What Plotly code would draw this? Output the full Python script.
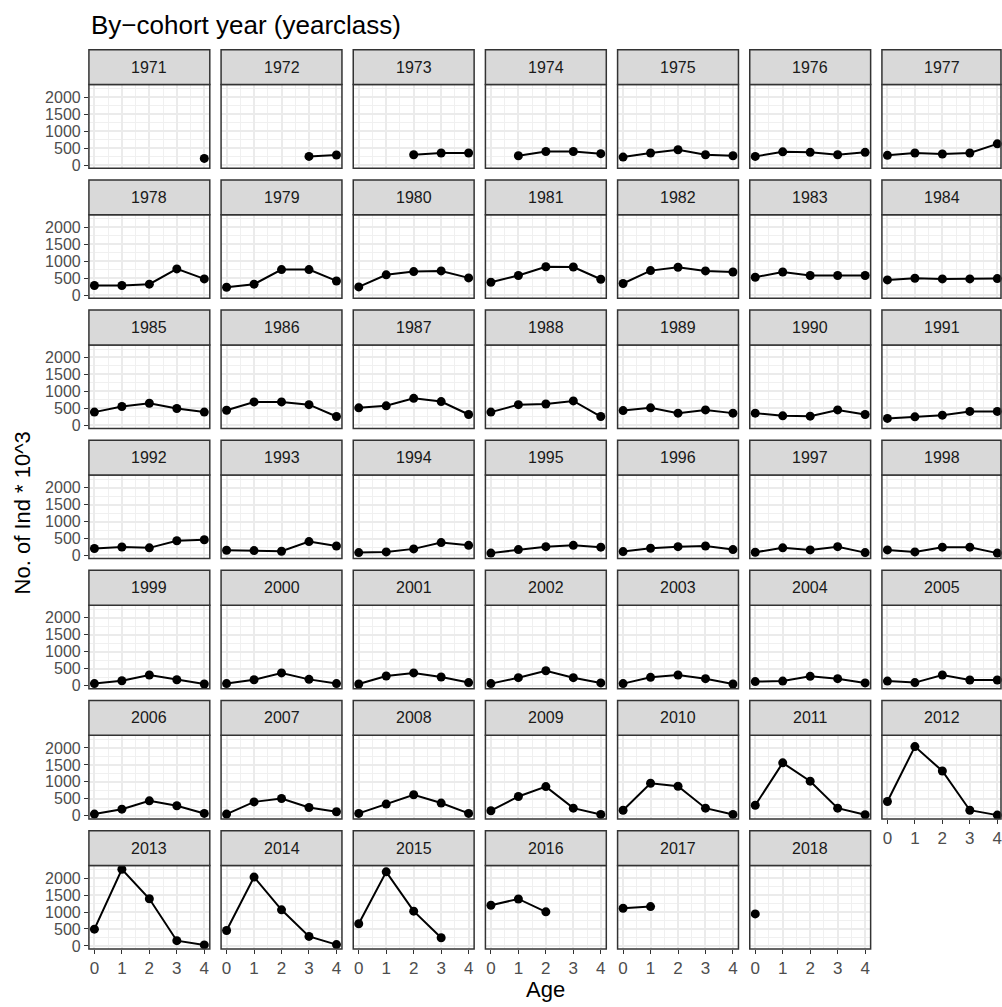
import plotly.graph_objects as go

years = [1971, 1972, 1973, 1974, 1975, 1976, 1977, 1978, 1979, 1980, 1981, 1982,
         1983, 1984, 1985, 1986, 1987, 1988, 1989, 1990, 1991, 1992, 1993, 1994,
         1995, 1996, 1997, 1998, 1999, 2000, 2001, 2002, 2003, 2004, 2005, 2006,
         2007, 2008, 2009, 2010, 2011, 2012, 2013, 2014, 2015, 2016, 2017, 2018]
ages = [0, 1, 2, 3, 4]

age0 = [None, None, None, None, 235, 255, 285, 285, 235, 245, 380, 345,
        530, 450, 390, 445, 515, 390, 435, 360, 205, 205, 155, 85,
        70, 115, 95, 165, 60, 60, 50, 60, 60, 120, 135, 50,
        50, 70, 150, 165, 310, 420, 495, 455, 655, 1200, 1110, 945]
age1 = [None, None, None, 275, 355, 390, 355, 285, 325, 600, 580, 725,
        685, 500, 555, 690, 575, 610, 515, 280, 250, 250, 145, 105,
        175, 215, 225, 105, 145, 175, 285, 235, 245, 135, 90, 195,
        410, 345, 570, 960, 1560, 2040, 2260, 2030, 2185, 1385, 1160, None]
age2 = [None, None, 305, 400, 450, 375, 325, 325, 755, 695, 840, 825,
        580, 480, 650, 690, 795, 630, 360, 270, 300, 225, 125, 195,
        260, 260, 165, 245, 315, 375, 375, 440, 315, 275, 315, 440,
        510, 620, 860, 870, 1020, 1320, 1390, 1065, 1025, 1005, None, None]
age3 = [None, 255, 355, 400, 305, 305, 355, 775, 755, 715, 830, 715,
        580, 480, 495, 610, 700, 720, 455, 455, 410, 435, 410, 380,
        300, 280, 260, 245, 175, 185, 255, 235, 205, 205, 165, 295,
        245, 375, 225, 225, 225, 165, 155, 280, 240, None, None, None]
age4 = [195, 295, 355, 335, 275, 375, 625, 480, 420, 510, 470, 685,
        580, 490, 390, 260, 320, 260, 360, 320, 410, 465, 280, 300,
        245, 175, 85, 70, 50, 60, 90, 80, 50, 80, 165, 70,
        120, 70, 40, 40, 30, 20, 30, 40, None, None, None, None]

title_text = "By\u2212cohort year (yearclass)"
x_title = "Age"
y_title = "No. of Ind * 10^3"

W, H = 1002, 1007
NCOL = 7
FONT = "Liberation Sans, Arial, sans-serif"

series = [age0, age1, age2, age3, age4]
allv = [v for s in series for v in s if v is not None]
vmin, vmax = min(allv), max(allv)
pad = 0.05 * (vmax - vmin)
yrange = [vmin - pad, vmax + pad]
xr0, xr1 = -0.2, 4.2

col_left0, col_pitch, pw = 89.0, 132.3, 121.0
row_top0, row_pitch, strip_h, panel_h = 50.0, 130.8, 35.0, 84.0

GRID_MAJ = "#EBEBEB"
GRID_MIN = "#F0F0F0"
BORDER = "#333333"

def px(x):
    return x / W

def py(y):
    return 1 - y / H

fig = go.Figure()
shapes = []
annotations = []
nyears = len(years)

for i, yr in enumerate(years):
    r, c = divmod(i, NCOL)
    vals = [s[i] for s in series]
    n = i + 1
    xa = "x" if n == 1 else f"x{n}"
    ya = "y" if n == 1 else f"y{n}"
    fig.add_trace(go.Scatter(
        x=ages, y=vals, mode="lines+markers", xaxis=xa, yaxis=ya,
        line=dict(color="black", width=2),
        marker=dict(color="black", size=9),
        cliponaxis=False, showlegend=False, hoverinfo="x+y"))

    left = col_left0 + c * col_pitch
    right = left + pw
    xr_end = xr1
    if right > W:
        xr_end = xr0 + (W - left) * (xr1 - xr0) / pw
        right = W
    stop = row_top0 + r * row_pitch
    ptop = stop + strip_h
    pbot = ptop + panel_h

    below_exists = (i + NCOL) < nyears
    show_x = not below_exists
    show_y = c == 0

    xkey = "xaxis" if n == 1 else f"xaxis{n}"
    ykey = "yaxis" if n == 1 else f"yaxis{n}"
    fig.layout[xkey] = dict(
        domain=[px(left), px(right)], anchor=ya, range=[xr0, xr_end],
        tickmode="array", tickvals=ages, ticktext=[str(a) for a in ages],
        showgrid=True, gridcolor=GRID_MAJ, gridwidth=1.6, zeroline=False,
        minor=dict(tickmode="array", tickvals=[0.5, 1.5, 2.5, 3.5],
                   showgrid=True, gridcolor=GRID_MIN, gridwidth=0.9),
        showticklabels=show_x, ticks="outside" if show_x else "",
        ticklen=4, tickwidth=1.4, tickcolor=BORDER,
        ticklabeloverflow="allow",
        tickfont=dict(family=FONT, size=17, color="#4D4D4D"),
        showline=False, fixedrange=True)
    fig.layout[ykey] = dict(
        domain=[py(pbot), py(ptop)], anchor=xa, range=yrange,
        tickmode="array", tickvals=[0, 500, 1000, 1500, 2000],
        showgrid=True, gridcolor=GRID_MAJ, gridwidth=1.6, zeroline=False,
        minor=dict(tickmode="array", tickvals=[250, 750, 1250, 1750, 2250],
                   showgrid=True, gridcolor=GRID_MIN, gridwidth=0.9),
        showticklabels=show_y, ticks="outside" if show_y else "",
        ticklen=4, tickwidth=1.4, tickcolor=BORDER,
        tickfont=dict(family=FONT, size=16, color="#4D4D4D"),
        showline=False, fixedrange=True)

    # panel border
    shapes.append(dict(type="rect", xref="paper", yref="paper",
                       x0=px(left), x1=px(right), y0=py(pbot), y1=py(ptop),
                       line=dict(color=BORDER, width=1.5),
                       fillcolor="rgba(0,0,0,0)", layer="above"))
    # strip
    shapes.append(dict(type="rect", xref="paper", yref="paper",
                       x0=px(left), x1=px(right), y0=py(ptop), y1=py(stop),
                       line=dict(color=BORDER, width=1.5),
                       fillcolor="#D9D9D9", layer="above"))
    annotations.append(dict(text=str(yr), xref="paper", yref="paper",
                            x=px(left + pw / 2), y=py(stop + strip_h / 2),
                            xanchor="center", yanchor="middle", showarrow=False,
                            font=dict(family=FONT, size=16, color="#1A1A1A")))

annotations.append(dict(text=title_text, xref="paper", yref="paper",
                        x=px(89), y=py(25), xanchor="left", yanchor="middle",
                        showarrow=False,
                        font=dict(family=FONT, size=26, color="black")))
annotations.append(dict(text=y_title, xref="paper", yref="paper",
                        x=px(22), y=py(515), xanchor="center", yanchor="middle",
                        textangle=-90, showarrow=False,
                        font=dict(family=FONT, size=22, color="black")))
annotations.append(dict(text=x_title, xref="paper", yref="paper",
                        x=px(546), y=py(994), xanchor="center", yanchor="middle",
                        showarrow=False,
                        font=dict(family=FONT, size=22, color="black")))

fig.update_layout(
    width=W, height=H, margin=dict(l=0, r=0, t=0, b=0),
    paper_bgcolor="white", plot_bgcolor="white",
    shapes=shapes, annotations=annotations, showlegend=False,
    font=dict(family=FONT))

fig.write_html("out.html", config={"displayModeBar": False})
